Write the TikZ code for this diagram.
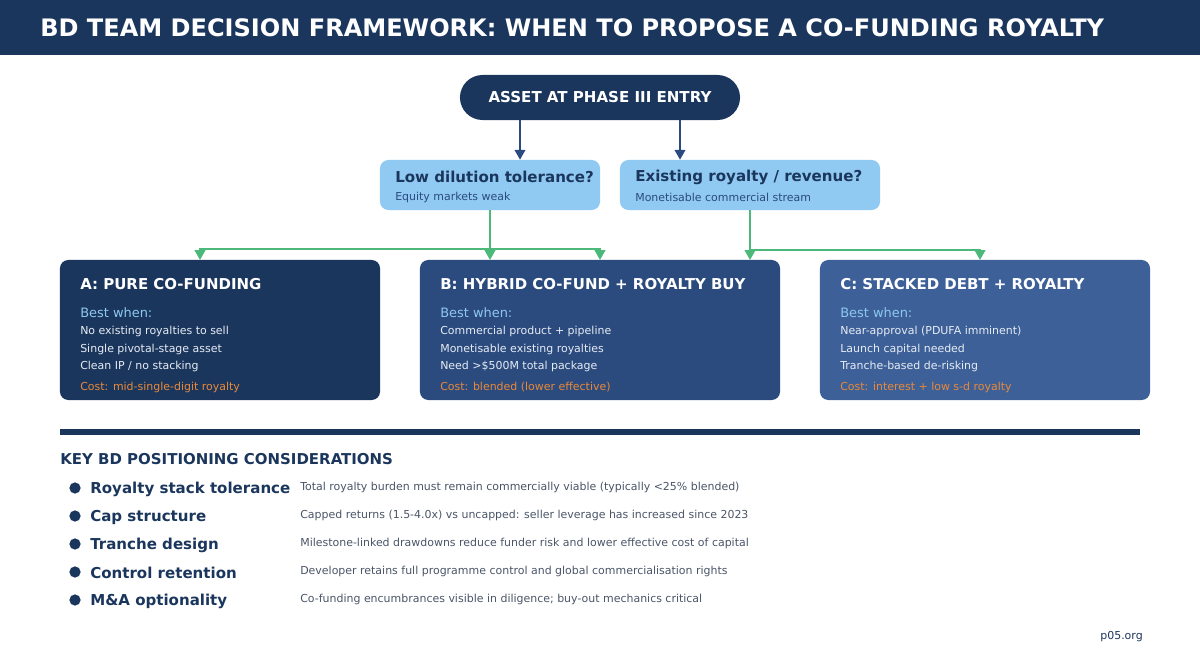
\documentclass[tikz,border=0pt]{standalone}
\usepackage{fontspec}
\setmainfont{DejaVu Sans}
\usepackage{tikz}
\usetikzlibrary{arrows.meta}

\definecolor{navy}{HTML}{1B365D}
\definecolor{midblue}{HTML}{2B4A7E}
\definecolor{steel}{HTML}{3D6098}
\definecolor{skyblue}{HTML}{90CAF2}
\definecolor{paleblue}{HTML}{8EC8F0}
\definecolor{leaf}{HTML}{4CB87A}
\definecolor{amber}{HTML}{E8893A}
\definecolor{slate}{HTML}{4A5568}
\definecolor{offwhite}{HTML}{E6ECF4}

\begin{document}
\begin{tikzpicture}[x=0.025cm, y=-0.025cm,
		txt/.style={anchor=west, inner sep=0pt},
		question/.style={fill=skyblue, rounded corners=6pt, minimum height=1.25cm, inner sep=0pt},
		option/.style={rounded corners=6pt, minimum width=#1, minimum height=3.5cm, inner sep=0pt},
		optitle/.style={txt, text=white, font=\bfseries\fontsize{10.65}{12}\selectfont},
		bestwhen/.style={txt, text=paleblue, font=\fontsize{9.2}{11}\selectfont},
		item/.style={txt, text=offwhite, font=\fontsize{7.8}{9}\selectfont},
		cost/.style={txt, text=amber, font=\fontsize{7.8}{9}\selectfont},
		bluearrow/.style={draw=midblue, line width=1.4pt, -{Triangle[length=7pt, width=7.5pt]}},
		greenline/.style={draw=leaf, line width=1.4pt},
		greenarrow/.style={greenline, -{Triangle[length=7pt, width=7.5pt]}},
		keylabel/.style={txt, text=navy, font=\bfseries\fontsize{10.7}{12}\selectfont},
		keydesc/.style={txt, text=slate, font=\fontsize{7.8}{9}\selectfont},
		bullet/.style={circle, fill=navy, minimum size=8pt, inner sep=0pt}]
	\useasboundingbox (0,0) rectangle (1200,650);
	
	% Title bar
	\fill[navy] (0,0) rectangle (1200,55);
	\node[txt, text=white, font=\bfseries\fontsize{17.1}{20}\selectfont] (title) at (40,28) {BD TEAM DECISION FRAMEWORK: WHEN TO PROPOSE A CO-FUNDING ROYALTY};
	
	% Root and questions
	\node[fill=navy, rounded corners=16pt, minimum width=7cm, minimum height=1.125cm, text=white, font=\bfseries\fontsize{10.7}{12}\selectfont] (root) at (600,97.5) {ASSET AT PHASE III ENTRY};
	\node[question, minimum width=5.5cm] (q1) at (490,185) {};
	\node[question, minimum width=6.5cm] (q2) at (750,185) {};
	\node[txt, text=navy, font=\bfseries\fontsize{10.7}{12}\selectfont] (q1title) at (395,177) {Low dilution tolerance?};
	\node[txt, text=midblue, font=\fontsize{7.8}{9}\selectfont] (q1sub) at (395,197) {Equity markets weak};
	\node[txt, text=navy, font=\bfseries\fontsize{10.7}{12}\selectfont] (q2title) at (635,177) {Existing royalty / revenue?};
	\node[txt, text=midblue, font=\fontsize{7.8}{9}\selectfont] (q2sub) at (635,197) {Monetisable commercial stream};
	
	\coordinate (r1) at (520,120);
	\coordinate (r2) at (680,120);
	\draw[bluearrow] (r1) -- (r1 |- q1.north);
	\draw[bluearrow] (r2) -- (r2 |- q2.north);
	
	% Options
	\node[option=8cm, fill=navy] (A) at (220,330) {};
	\node[option=9cm, fill=midblue] (B) at (600,330) {};
	\node[option=8.25cm, fill=steel] (C) at (985,330) {};
	
	\node[optitle] (Atitle) at (80,284) {A: PURE CO-FUNDING};
	\node[bestwhen] (Abest) at (80,313) {Best when:};
	\node[item] (A1) at (80,331) {No existing royalties to sell};
	\node[item] (A2) at (80,349) {Single pivotal-stage asset};
	\node[item] (A3) at (80,366) {Clean IP / no stacking};
	\node[cost] (Acost) at (80,387) {Cost: mid-single-digit royalty};
	
	\node[optitle] (Btitle) at (440,284) {B: HYBRID CO-FUND + ROYALTY BUY};
	\node[bestwhen] (Bbest) at (440,313) {Best when:};
	\node[item] (B1) at (440,331) {Commercial product + pipeline};
	\node[item] (B2) at (440,349) {Monetisable existing royalties};
	\node[item] (B3) at (440,366) {Need >\$500M total package};
	\node[cost] (Bcost) at (440,387) {Cost: blended (lower effective)};
	
	\node[optitle] (Ctitle) at (840,284) {C: STACKED DEBT + ROYALTY};
	\node[bestwhen] (Cbest) at (840,313) {Best when:};
	\node[item] (C1) at (840,331) {Near-approval (PDUFA imminent)};
	\node[item] (C2) at (840,349) {Launch capital needed};
	\node[item] (C3) at (840,366) {Tranche-based de-risking};
	\node[cost] (Ccost) at (840,387) {Cost: interest + low s-d royalty};
	
	% Green connectors
	\coordinate (j1) at (490,249);
	\coordinate (j2) at (750,250);
	\coordinate (tA) at (200,260);
	\coordinate (tB1) at (490,260);
	\coordinate (tB2) at (600,260);
	\coordinate (tB3) at (750,260);
	\coordinate (tC) at (980,260);
	\draw[greenline] (q1.south) -- (j1);
	\draw[greenarrow] (j1) -| (tA);
	\draw[greenarrow] (j1) -- (tB1);
	\draw[greenarrow] (j1) -| (tB2);
	\draw[greenline] (q2.south) -- (j2);
	\draw[greenarrow] (j2) -- (tB3);
	\draw[greenarrow] (j2) -| (tC);
	
	% Considerations
	\draw[navy, line width=3.6pt] (60,432) -- (1140,432);
	\node[txt, text=navy, font=\bfseries\fontsize{10.65}{12}\selectfont] (keyhead) at (60,459) {KEY BD POSITIONING CONSIDERATIONS};
	
	\node[bullet] (b1) at (75,488) {};
	\node[keylabel] (k1) at (90,489) {Royalty stack tolerance};
	\node[keydesc] (d1) at (300,487) {Total royalty burden must remain commercially viable (typically <25\% blended)};
	\node[bullet] (b2) at (75,516) {};
	\node[keylabel] (k2) at (90,517) {Cap structure};
	\node[keydesc] (d2) at (300,515) {Capped returns (1.5-4.0x) vs uncapped: seller leverage has increased since 2023};
	\node[bullet] (b3) at (75,544) {};
	\node[keylabel] (k3) at (90,545) {Tranche design};
	\node[keydesc] (d3) at (300,543) {Milestone-linked drawdowns reduce funder risk and lower effective cost of capital};
	\node[bullet] (b4) at (75,572) {};
	\node[keylabel] (k4) at (90,573) {Control retention};
	\node[keydesc] (d4) at (300,571) {Developer retains full programme control and global commercialisation rights};
	\node[bullet] (b5) at (75,600) {};
	\node[keylabel] (k5) at (90,601) {M\&A optionality};
	\node[keydesc] (d5) at (300,599) {Co-funding encumbrances visible in diligence; buy-out mechanics critical};
	
	\node[anchor=east, inner sep=0pt, text=navy, font=\fontsize{7.8}{9}\selectfont] (site) at (1143,637) {p05.org};
\end{tikzpicture}
\end{document}
